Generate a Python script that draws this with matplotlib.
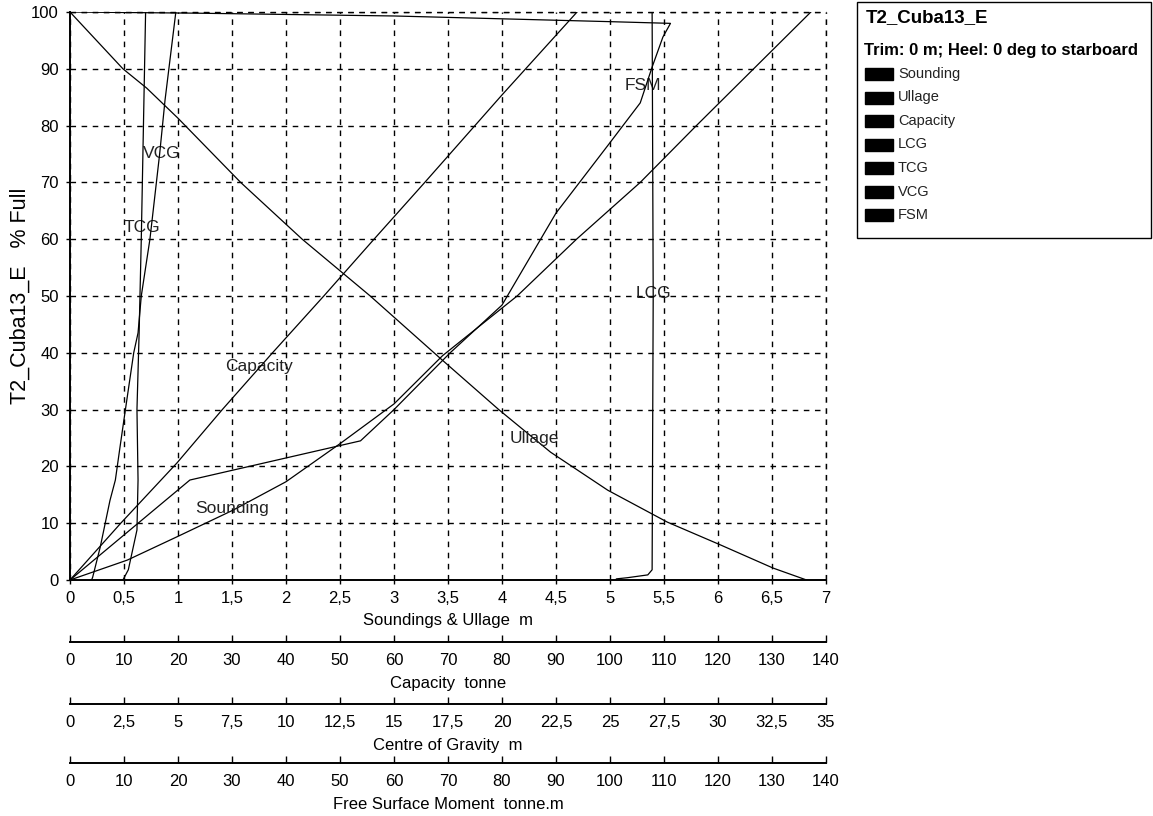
import matplotlib
matplotlib.use("Agg")
import matplotlib.pyplot as plt
from matplotlib.patches import Rectangle

plt.rcParams['font.family'] = ['Liberation Sans', 'DejaVu Sans']

# % full for each curve, with values
snd_pct = [0, 3.5, 7.6, 12.3, 17.3, 24, 31, 39.5, 50, 60, 70, 80, 90, 100]
snd_m = [0, 0.53, 0.99, 1.51, 2.0, 2.5, 3.0, 3.45, 4.14, 4.69, 5.28, 5.8, 6.33, 6.86]

ull_pct = [0, 2.1, 6.2, 10.2, 15.8, 22.5, 30, 39, 50, 60, 70, 81.3, 86.6, 90, 100]
ull_m = [6.82, 6.51, 6.02, 5.53, 4.98, 4.45, 3.97, 3.43, 2.78, 2.15, 1.58, 1.0, 0.71, 0.49, 0]

cap_pct = [0, 10, 20.6, 30, 40, 50, 60, 70, 85.4, 100]
cap_t = [0, 9.4, 19.8, 28.2, 37.5, 47.0, 56.3, 65.7, 80.0, 93.9]

lcg_pct = [0, 0.2, 0.4, 0.9, 1.8, 50, 100]
lcg_m = [25.25, 25.3, 25.8, 26.75, 26.95, 27.0, 26.95]

tcg_pct = [0, 1.8, 8.8, 17.6, 30, 43.5, 60, 80, 100]
tcg_m = [2.45, 2.7, 3.1, 3.15, 3.1, 3.2, 3.3, 3.4, 3.5]

vcg_pct = [0, 0.5, 5.8, 14, 17.6, 23, 29.6, 40, 43.5, 50, 60, 70, 75, 84.5, 100]
vcg_m = [1.0, 1.05, 1.4, 1.85, 2.1, 2.3, 2.55, 2.95, 3.15, 3.3, 3.7, 4.0, 4.15, 4.4, 4.9]

fsm_pct = [0, 17.6, 24.5, 30, 40, 48.4, 64.6, 77, 84, 90.3, 95.6, 98.0, 98.3, 98.8, 99.3, 99.8, 100]
fsm_tm = [0, 22.2, 53.8, 60, 70.4, 80, 90, 100, 105.6, 107.8, 109.8, 111.2, 100, 80, 60, 22.8, 0]

legend_names = ["Sounding", "Ullage", "Capacity", "LCG", "TCG", "VCG", "FSM"]
curve_labels = {"Sounding": (1.5, 12.5), "Ullage": (4.3, 25), "Capacity": (1.75, 37.5),
                "LCG": (5.4, 50.5), "TCG": (0.67, 62), "VCG": (0.85, 75), "FSM": (5.3, 87)}

W, H = 1153, 816
fig = plt.figure(figsize=(W / 100, H / 100), dpi=100)

L = 70 / W
R = 826 / W
ax = fig.add_axes([L, (H - 580) / H, R - L, 568 / H])
ax.set_xlim(0, 7)
ax.set_ylim(0, 100)

fs = 12
xt = [i * 0.5 for i in range(15)]
ax.set_xticks(xt)
ax.set_xticklabels([('%g' % v).replace('.', ',') for v in xt], fontsize=fs)
ax.set_yticks(range(0, 101, 10))
ax.set_yticklabels([str(v) for v in range(0, 101, 10)], fontsize=fs)
ax.tick_params(length=3, width=1, pad=5)
ax.grid(True, color='black', linestyle=(0, (4, 4)), linewidth=1)
ax.axvline(7, color='black', linestyle=(0, (4, 4)), linewidth=1, clip_on=False)
ax.axhline(100, color='black', linestyle=(0, (4, 4)), linewidth=1, clip_on=False)
ax.spines['top'].set_visible(False)
ax.spines['right'].set_visible(False)
ax.spines['left'].set_linewidth(1.4)
ax.spines['bottom'].set_linewidth(1.4)
ax.set_xlabel("Soundings & Ullage  m", fontsize=fs, labelpad=5)
ax.set_ylabel("T2_Cuba13_E   % Full", fontsize=15.5)
ax.yaxis.set_label_coords(-39 / 756, 0.5)

# hidden twin axes so each quantity is drawn on its own scale
def twin(lim):
    t = ax.twiny()
    t.set_xlim(*lim)
    t.set_ylim(0, 100)
    t.axis('off')
    return t

ax_cap = twin((0, 140))
ax_cg = twin((0, 35))
ax_fsm = twin((0, 140))

lw = 0.9
ax.plot(snd_m, snd_pct, color='black', lw=lw)
ax.plot(ull_m, ull_pct, color='black', lw=lw)
ax_cap.plot(cap_t, cap_pct, color='black', lw=lw)
ax_cg.plot(lcg_m, lcg_pct, color='black', lw=lw)
ax_cg.plot(tcg_m, tcg_pct, color='black', lw=lw)
ax_cg.plot(vcg_m, vcg_pct, color='black', lw=lw)
ax_fsm.plot(fsm_tm, fsm_pct, color='black', lw=lw)

for name, (x, y) in curve_labels.items():
    ax.text(x, y, name, fontsize=12.5, ha='center', va='center', color='#222222')

# extra scales under the chart
extra = [((0, 140), range(0, 141, 10), "Capacity  tonne", 642),
         ((0, 35), [i * 2.5 for i in range(15)], "Centre of Gravity  m", 704),
         ((0, 140), range(0, 141, 10), "Free Surface Moment  tonne.m", 763)]
for lim, ticks, title, ypx in extra:
    a = fig.add_axes([L, (H - ypx) / H, R - L, 0.001])
    a.set_xlim(*lim)
    a.set_yticks([])
    for s in ['top', 'left', 'right']:
        a.spines[s].set_visible(False)
    a.spines['bottom'].set_linewidth(1.4)
    a.set_xticks(list(ticks))
    a.set_xticklabels([('%g' % v).replace('.', ',') for v in ticks], fontsize=fs)
    a.tick_params(direction='in', length=5, width=1, pad=8)
    a.set_xlabel(title, fontsize=fs, labelpad=6)

# legend box
fig.patches.append(Rectangle((857 / W, (H - 238) / H), 294 / W, 236 / H,
                             transform=fig.transFigure, fill=False, edgecolor='black', lw=1))
fig.text(866 / W, 1 - 18 / H, "T2_Cuba13_E", fontsize=13.5, fontweight='bold', va='center')
fig.text(864 / W, 1 - 51 / H, "Trim: 0 m; Heel: 0 deg to starboard", fontsize=12,
         fontweight='bold', va='center')
for i, name in enumerate(legend_names):
    yc = 74 + i * 23.5
    fig.patches.append(Rectangle((865 / W, (H - yc - 6) / H), 28 / W, 12 / H,
                                 transform=fig.transFigure, color='black'))
    fig.text(898 / W, 1 - yc / H, name, fontsize=10.5, va='center', color='#222222')

fig.savefig("out.png", dpi=100)
